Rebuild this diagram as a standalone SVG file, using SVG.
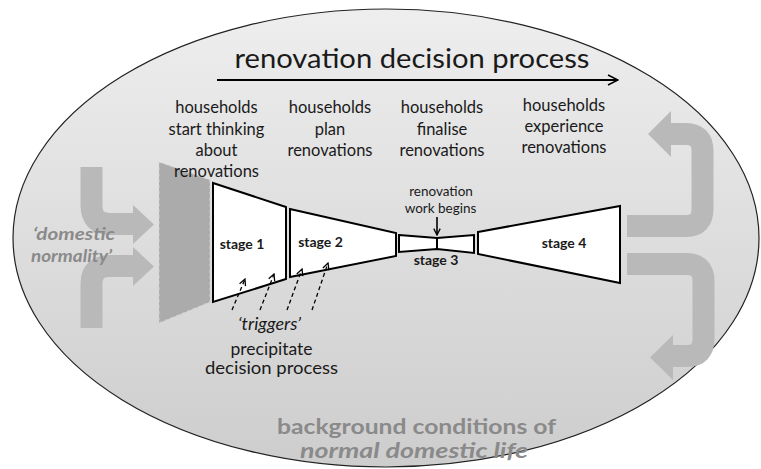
<svg xmlns="http://www.w3.org/2000/svg" width="761" height="469" viewBox="0 0 761 469">
<defs>
<linearGradient id="bg" x1="0" y1="0" x2="0" y2="1">
<stop offset="0" stop-color="#eeeeee"/>
<stop offset="1" stop-color="#cdcdcd"/>
</linearGradient>
<marker id="open" viewBox="0 0 10 10" refX="9" refY="5" markerWidth="8" markerHeight="8" markerUnits="userSpaceOnUse" orient="auto">
<path d="M1,1 L9,5 L1,9" fill="none" stroke="#000" stroke-width="1.6"/>
</marker>
<marker id="big" viewBox="0 0 12 12" refX="11" refY="6" markerWidth="12" markerHeight="12" markerUnits="userSpaceOnUse" orient="auto">
<path d="M1,1 L11,6 L1,11" fill="none" stroke="#000" stroke-width="1.5"/>
</marker>
</defs>
<style>
text{font-family:Lato,"Liberation Sans",sans-serif;fill:#1a1a1a}
.hd{font-size:16.5px;text-anchor:middle}
.st{font-size:14px;font-weight:bold;text-anchor:middle}
.sm{font-size:13.5px;text-anchor:middle}
.gr{fill:#8a8a8a;font-weight:bold}
.stage{fill:#fff;stroke:#000;stroke-width:2;stroke-linejoin:miter}
.band{fill:none;stroke:#b9b9b9;stroke-width:22}
.head{fill:#b9b9b9}
.dash{fill:none;stroke:#000;stroke-width:1.3;stroke-dasharray:4,3}
</style>
<g id="background">
<ellipse cx="386" cy="238" rx="373" ry="229" fill="url(#bg)" stroke="#222" stroke-width="1.2"/>
</g>
<g id="wall">
<polygon points="159,162 210,180 210,302 159,323" fill="#ababab" stroke="#d4d4d4" stroke-width="1" stroke-dasharray="3,3"/>
</g>
<g id="stage1">
<polygon class="stage" points="213,183 286,207 286,279 213,302"/>
<text class="st" x="242" y="249">stage 1</text>
</g>
<g id="stage2">
<polygon class="stage" points="290,209 396,233 396,256 290,277"/>
<text class="st" x="320.5" y="247">stage 2</text>
</g>
<g id="stage3">
<polygon class="stage" points="399,235 437,238 474,235 474,253 437,249 399,252"/>
<line x1="437" y1="238" x2="437" y2="249" stroke="#000" stroke-width="2"/>
<text class="st" x="436" y="265">stage 3</text>
<text class="sm" x="441" y="196">renovation</text>
<text class="sm" x="440.5" y="213">work begins</text>
</g>
<g id="stage4">
<polygon class="stage" points="478,232 620,206 620,283 478,254"/>
<text class="st" x="564" y="248">stage 4</text>
</g>
<g id="connectors">
<path class="band" d="M91.5,167 V205 Q91.5,224 110,224 H136"/>
<polygon class="head" points="133,205 154,224.5 133,244"/>
<path class="band" d="M91.5,328 V284 Q91.5,266 110,266 H136"/>
<polygon class="head" points="133,247 154,266.5 133,286"/>
<path class="band" d="M627,226 H686 Q702.5,226 702.5,209 V151 Q702.5,134 686,134 H668"/>
<polygon class="head" points="671,111 648,134 671,157"/>
<path class="band" d="M627,264 H686 Q703.5,264 703.5,281 V339 Q703.5,356 687,356 H670"/>
<polygon class="head" points="673,335 650,357.5 673,380"/>
<line x1="217" y1="80" x2="618" y2="80" stroke="#000" stroke-width="1.8" marker-end="url(#big)"/>
<line x1="437" y1="217" x2="437" y2="235" stroke="#000" stroke-width="1.6" marker-end="url(#open)"/>
<line class="dash" x1="232" y1="310" x2="245" y2="279" marker-end="url(#open)"/>
<line class="dash" x1="260" y1="310" x2="274" y2="274" marker-end="url(#open)"/>
<line class="dash" x1="287" y1="310" x2="302" y2="269" marker-end="url(#open)"/>
<line class="dash" x1="312" y1="310" x2="328" y2="263" marker-end="url(#open)"/>
</g>
<g id="title">
<text x="412" y="68" font-size="27" text-anchor="middle" textLength="355" lengthAdjust="spacingAndGlyphs">renovation decision process</text>
</g>
<g id="header1">
<text class="hd" x="216.5" y="113">households</text>
<text class="hd" x="216.5" y="135">start thinking</text>
<text class="hd" x="216.5" y="156">about</text>
<text class="hd" x="216.5" y="177">renovations</text>
</g>
<g id="header2">
<text class="hd" x="330" y="113">households</text>
<text class="hd" x="330" y="135">plan</text>
<text class="hd" x="330" y="156">renovations</text>
</g>
<g id="header3">
<text class="hd" x="442" y="113">households</text>
<text class="hd" x="442" y="135">finalise</text>
<text class="hd" x="442" y="156">renovations</text>
</g>
<g id="header4">
<text class="hd" x="564" y="111">households</text>
<text class="hd" x="564" y="132">experience</text>
<text class="hd" x="564" y="153">renovations</text>
</g>
<g id="domestic-normality">
<text class="gr" x="33" y="240" font-size="17.5" font-style="italic" textLength="82" lengthAdjust="spacingAndGlyphs">‘domestic</text>
<text class="gr" x="31" y="262" font-size="17.5" font-style="italic" textLength="81" lengthAdjust="spacingAndGlyphs">normality’</text>
</g>
<g id="triggers">
<text x="269.5" y="330" font-size="18" font-style="italic" text-anchor="middle">‘triggers’</text>
<text x="271.5" y="355" font-size="17.5" text-anchor="middle">precipitate</text>
<text x="271.5" y="374" font-size="17.5" text-anchor="middle" textLength="133" lengthAdjust="spacingAndGlyphs">decision process</text>
</g>
<g id="background-conditions">
<text class="gr" x="416.5" y="434" font-size="20.5" text-anchor="middle" textLength="279" lengthAdjust="spacingAndGlyphs">background conditions of</text>
<text class="gr" x="414" y="458" font-size="20.5" font-style="italic" text-anchor="middle" textLength="228" lengthAdjust="spacingAndGlyphs">normal domestic life</text>
</g>
</svg>
